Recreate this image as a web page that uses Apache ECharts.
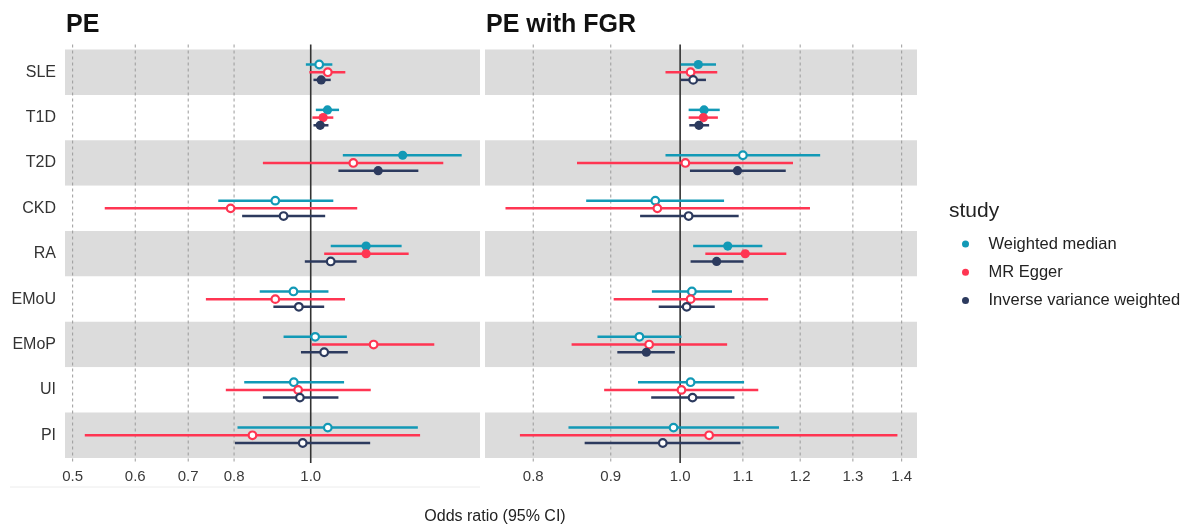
<!DOCTYPE html>
<html>
  <head>
    <meta charset="utf-8" />
    <style>
      html, body {margin: 0; padding: 0; background: #fff;}
      #chart {width: 1184px; height: 528px;}
    </style>
    <script src="https://cdn.jsdelivr.net/npm/echarts@6/dist/echarts.min.js"></script>
  </head>
  <body>
    <div id="chart"></div>
    <script type="text/javascript">
      // exposures, top to bottom
      var categories = ['SLE', 'T1D', 'T2D', 'CKD', 'RA', 'EMoU', 'EMoP', 'UI', 'PI'];
      var methods = ['Weighted median', 'MR Egger', 'Inverse variance weighted'];

      // rows: [odds ratio, lower 95% CI, upper 95% CI, filled marker]
      var peWeightedMedian = [
        [1.025, 0.986, 1.065, 0], [1.050, 1.015, 1.086, 1], [1.307, 1.098, 1.552, 1],
        [0.902, 0.764, 1.068, 0], [1.175, 1.060, 1.303, 1], [0.951, 0.862, 1.053, 0],
        [1.013, 0.924, 1.111, 0], [0.952, 0.824, 1.102, 0], [1.051, 0.808, 1.366, 0]
      ];
      var peEgger = [
        [1.051, 0.996, 1.106, 0], [1.037, 1.005, 1.068, 1], [1.132, 0.870, 1.471, 0],
        [0.792, 0.549, 1.145, 0], [1.175, 1.040, 1.330, 1], [0.902, 0.737, 1.105, 0],
        [1.201, 1.003, 1.433, 0], [0.964, 0.781, 1.191, 0], [0.844, 0.518, 1.375, 0]
      ];
      var peIvw = [
        [1.031, 1.008, 1.060, 1], [1.028, 1.008, 1.053, 1], [1.217, 1.084, 1.368, 1],
        [0.924, 0.819, 1.043, 0], [1.060, 0.983, 1.143, 0], [0.966, 0.897, 1.040, 0],
        [1.040, 0.972, 1.114, 0], [0.969, 0.870, 1.084, 0], [0.977, 0.802, 1.189, 0]
      ];
      var fgrWeightedMedian = [
        [1.028, 1.001, 1.056, 1], [1.037, 1.013, 1.062, 1], [1.100, 0.978, 1.237, 0],
        [0.963, 0.867, 1.069, 0], [1.075, 1.020, 1.133, 1], [1.018, 0.958, 1.082, 0],
        [0.940, 0.882, 1.002, 0], [1.016, 0.938, 1.102, 0], [0.990, 0.844, 1.162, 0]
      ];
      var fgrEgger = [
        [1.016, 0.978, 1.058, 0], [1.036, 1.013, 1.059, 1], [1.008, 0.855, 1.187, 0],
        [0.966, 0.767, 1.218, 0], [1.104, 1.039, 1.175, 1], [1.016, 0.904, 1.143, 0],
        [0.954, 0.848, 1.074, 0], [1.002, 0.891, 1.126, 0], [1.045, 0.784, 1.391, 0]
      ];
      var fgrIvw = [
        [1.020, 1.001, 1.040, 0], [1.029, 1.014, 1.045, 1], [1.091, 1.015, 1.174, 1],
        [1.013, 0.941, 1.093, 0], [1.057, 1.016, 1.101, 1], [1.010, 0.968, 1.054, 0],
        [0.950, 0.909, 0.992, 1], [1.019, 0.957, 1.086, 0], [0.974, 0.865, 1.096, 0]
      ];

      // x axis ticks (log scale)
      var peTicks = [0.5, 0.6, 0.7, 0.8, 1.0];
      var fgrTicks = [0.8, 0.9, 1.0, 1.1, 1.2, 1.3, 1.4];

      var colors = ['#1299b6', '#ff3552', '#2c3a5e'];
      var offsets = [-7.7, 0, 7.7];
      var font = 'Liberation Sans, Arial, sans-serif';

      var chart = echarts.init(document.getElementById('chart'));

      function toRows(rows) {
        return rows.map(function (r, i) {
          return [i, Math.log(r[0]), Math.log(r[1]), Math.log(r[2]), r[3]];
        });
      }

      function ciRenderer(offset, color) {
        return function (params, api) {
          var cat = api.value(0);
          var p = api.coord([api.value(1), cat]);
          var lo = api.coord([api.value(2), cat]);
          var hi = api.coord([api.value(3), cat]);
          var y = p[1] + offset;
          var filled = api.value(4) === 1;
          return {
            type: 'group',
            children: [
              {type: 'line', shape: {x1: lo[0], y1: y, x2: hi[0], y2: y},
               style: {stroke: color, lineWidth: 2.5}},
              {type: 'circle', shape: {cx: p[0], cy: y, r: filled ? 4.6 : 3.8},
               style: {fill: filled ? color : '#fff', stroke: color, lineWidth: filled ? 0 : 2.2}}
            ]
          };
        };
      }

      // dashed guides at the ticks, solid line at OR = 1
      function guideRenderer(params, api) {
        var v = api.value(0);
        var x = api.coord([v, 0])[0];
        var cs = params.coordSys;
        var isOne = Math.abs(v) < 1e-9;
        return {
          type: 'line',
          shape: {x1: x, y1: cs.y - 5, x2: x, y2: cs.y + cs.height + 5},
          style: isOne ? {stroke: '#333', lineWidth: 1.6}
                       : {stroke: '#9a9a9a', lineWidth: 1, lineDash: [3, 3]}
        };
      }

      function xAxisFor(gridIndex, ticks, lo, hi) {
        return {
          type: 'value', gridIndex: gridIndex,
          min: Math.log(lo), max: Math.log(hi),
          axisLine: {show: false}, axisTick: {show: false}, splitLine: {show: false},
          axisLabel: {
            customValues: ticks.map(Math.log),
            formatter: function (v) { return Math.exp(v).toFixed(1); },
            fontSize: 15, color: '#3a3a3a', fontFamily: font, margin: 11
          }
        };
      }

      function yAxisFor(gridIndex, showLabels) {
        return {
          type: 'category', gridIndex: gridIndex, data: categories, inverse: true,
          axisLine: {show: false}, axisTick: {show: false}, splitLine: {show: false},
          splitArea: {show: true, areaStyle: {color: ['#dcdcdc', '#ffffff']}},
          axisLabel: {show: showLabels, fontSize: 16, color: '#333', fontFamily: font, margin: 9}
        };
      }

      var panels = [
        {ticks: peTicks, sets: [peWeightedMedian, peEgger, peIvw]},
        {ticks: fgrTicks, sets: [fgrWeightedMedian, fgrEgger, fgrIvw]}
      ];

      var series = [];
      panels.forEach(function (panel, gi) {
        series.push({
          type: 'custom', name: 'guides' + gi, xAxisIndex: gi, yAxisIndex: gi, z: 1,
          data: panel.ticks.map(function (t) { return [Math.log(t)]; }),
          encode: {x: 0}, renderItem: guideRenderer, silent: true
        });
        panel.sets.forEach(function (rows, mi) {
          series.push({
            type: 'custom', name: methods[mi], xAxisIndex: gi, yAxisIndex: gi, z: 3 + mi,
            itemStyle: {color: colors[mi]},
            data: toRows(rows),
            encode: {x: [1, 2, 3], y: 0},
            renderItem: ciRenderer(offsets[mi], colors[mi])
          });
        });
      });

      var option = {
        backgroundColor: '#fff',
        animation: false,
        title: [
          {text: 'PE', left: 66, top: 13, padding: 0,
           textStyle: {fontSize: 25, fontWeight: 'bold', color: '#111', fontFamily: font}},
          {text: 'PE with FGR', left: 486, top: 13, padding: 0,
           textStyle: {fontSize: 25, fontWeight: 'bold', color: '#111', fontFamily: font}},
          {text: 'study', left: 949, top: 201, padding: 0,
           textStyle: {fontSize: 21, fontWeight: 'normal', color: '#222', fontFamily: font}},
          {text: 'Odds ratio (95% CI)', left: 495, top: 509, padding: 0, textAlign: 'center',
           textStyle: {fontSize: 16, fontWeight: 'normal', color: '#222', fontFamily: font}}
        ],
        legend: {
          orient: 'vertical', left: 957, top: 230.5,
          data: methods.map(function (m) { return {name: m, icon: 'circle'}; }),
          itemWidth: 36, itemHeight: 7, itemGap: 11.2,
          textStyle: {fontSize: 16.5, color: '#222', fontFamily: font}
        },
        grid: [
          {left: 65, right: 704, top: 49.5, bottom: 70},
          {left: 485, right: 267, top: 49.5, bottom: 70}
        ],
        xAxis: [
          xAxisFor(0, peTicks, 0.489, 1.637),
          xAxisFor(1, fgrTicks, 0.7435, 1.433)
        ],
        yAxis: [yAxisFor(0, true), yAxisFor(1, false)],
        graphic: [
          {type: 'line', shape: {x1: 10, y1: 487, x2: 480, y2: 487},
           style: {stroke: '#ececec', lineWidth: 1}, silent: true}
        ],
        series: series
      };

      chart.setOption(option);
    </script>
  </body>
</html>
